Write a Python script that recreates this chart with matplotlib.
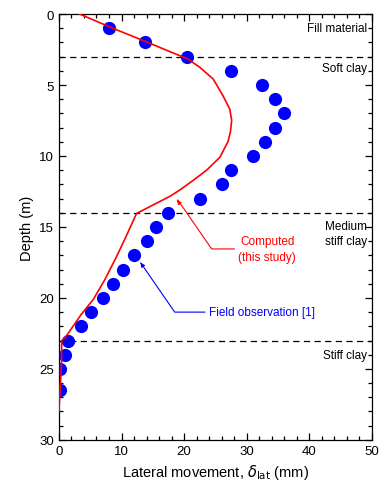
import matplotlib
matplotlib.use("Agg")
import matplotlib.pyplot as plt
from matplotlib.ticker import MultipleLocator

plt.rcParams['font.family'] = ['Liberation Sans', 'DejaVu Sans']
plt.rcParams['mathtext.fontset'] = 'dejavusans'

# field inclinometer readings
obs_x = [8.0, 13.8, 20.5, 27.5, 32.5, 34.5, 36.0, 34.5, 33.0, 31.0, 27.5, 26.0, 22.5,
         17.5, 15.5, 14.0, 12.0, 10.3, 8.6, 7.1, 5.2, 3.5, 1.4, 1.0, 0.2, 0.2]
obs_depth = [1, 2, 3, 4, 5, 6, 7, 8, 9, 10, 11, 12, 13,
             14, 15, 16, 17, 18, 19, 20, 21, 22, 23, 24, 25, 26.5]

# computed profile
comp_x = [3.3, 8.6, 14.2, 18.0, 20.4, 22.5, 24.65, 26.2, 27.3, 27.6, 27.4, 27.0, 25.7,
          23.6, 21.5, 19.3, 17.7, 12.4, 10.8, 9.2, 7.35, 5.5, 3.5, 1.0, 0.45, 0.4, 0.0]
comp_depth = [0, 1.0, 2.0, 2.7, 3.12, 3.75, 4.58, 5.75, 6.7, 7.5, 8.3, 9.0, 10.1,
              11.0, 11.7, 12.4, 12.85, 14.05, 15.6, 17.1, 18.7, 20.1, 21.2, 22.8, 23.0, 24.8, 28.0]

layer_bounds = [3, 14, 23]
layer_names = ['Fill material', 'Soft clay', 'Medium\nstiff clay', 'Stiff clay']
layer_label_depth = [1.0, 3.8, 15.45, 24.0]

fig = plt.figure(figsize=(3.85, 4.85), dpi=100)
ax = fig.add_axes([0.153, 0.091, 0.813, 0.878])

for d in layer_bounds:
    ax.axhline(d, color='black', lw=0.9, ls=(0, (5, 3.5)), zorder=1)

ax.plot(obs_x, obs_depth, 'o', color='#0000ff', ms=9.5, mec='none', zorder=3)
ax.plot(comp_x, comp_depth, '-', color='#ff0000', lw=1.2, zorder=4)

for name, d in zip(layer_names, layer_label_depth):
    ax.text(49.2, d, name, ha='right', va='center', fontsize=8.5, linespacing=1.3)

# leader for computed curve
ax.plot([28.0, 24.4, 19.0], [16.55, 16.55, 13.1], color='#ff0000', lw=0.8, zorder=4)
ax.annotate('', xy=(18.6, 12.95), xytext=(19.2, 13.3),
            arrowprops=dict(arrowstyle='-|>', color='#ff0000', lw=0.8, mutation_scale=6))
ax.text(33.3, 16.55, 'Computed\n(this study)', color='#ff0000', ha='center', va='center',
        fontsize=8.5, linespacing=1.35)

# leader for field data
ax.plot([23.3, 18.5, 13.1], [21.0, 21.0, 17.55], color='#0000ff', lw=0.8, zorder=4)
ax.annotate('', xy=(12.8, 17.35), xytext=(13.4, 17.75),
            arrowprops=dict(arrowstyle='-|>', color='#0000ff', lw=0.8, mutation_scale=6))
ax.text(24.0, 21.0, 'Field observation [1]', color='#0000ff', ha='left', va='center',
        fontsize=8.5)

ax.set_xlim(0, 50)
ax.set_ylim(30, 0)
ax.xaxis.set_major_locator(MultipleLocator(10))
ax.xaxis.set_minor_locator(MultipleLocator(2))
ax.yaxis.set_major_locator(MultipleLocator(5))
ax.yaxis.set_minor_locator(MultipleLocator(1))
ax.tick_params(which='both', direction='in', top=True, right=True, labelsize=9.5, width=0.9)
ax.tick_params(which='major', length=5)
ax.tick_params(which='minor', length=3)
for s in ax.spines.values():
    s.set_linewidth(0.9)

ax.set_xlabel(r'Lateral movement, $\delta_{\rm lat}$ (mm)', fontsize=10.5, labelpad=4)
ax.set_ylabel('Depth (m)', fontsize=10.5, labelpad=4)

fig.savefig('out.png', dpi=100)
